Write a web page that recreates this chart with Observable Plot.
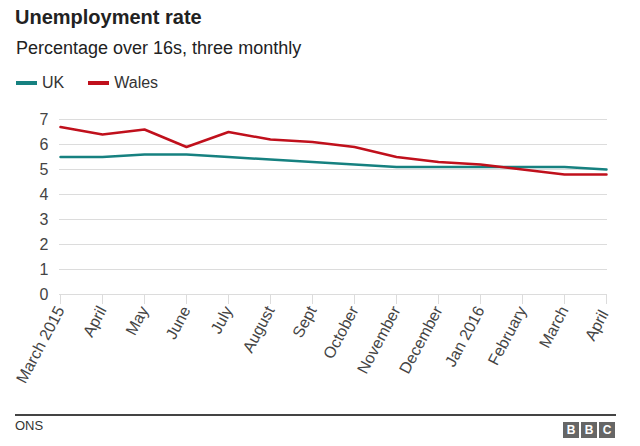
<!DOCTYPE html>
<html>
<head>
<meta charset="utf-8">
<script src="https://cdn.jsdelivr.net/npm/d3@7"></script>
<script src="https://cdn.jsdelivr.net/npm/@observablehq/plot@0.6"></script>
<style>
  html, body { margin: 0; padding: 0; background: #fff; }
  body { width: 640px; height: 446px; position: relative; overflow: hidden; font-family: "Liberation Sans", Arial, Helvetica, sans-serif; color: #222; }
  .abs { position: absolute; white-space: nowrap; }
  #title { left: 15px; top: 6px; font-size: 20px; font-weight: bold; color: #222; }
  #subtitle { left: 16px; top: 38px; font-size: 18px; color: #222; }
  #legend { left: 16px; top: 74px; font-size: 16px; color: #333; display: flex; align-items: center; }
  .sw { display: inline-block; width: 21px; height: 4px; margin-right: 5px; }
  .li { display: inline-flex; align-items: center; margin-right: 24px; }
  #chart { left: 0; top: 100px; }
  #rule { left: 15px; top: 414px; width: 601px; height: 2px; background: #444; }
  #source { left: 15px; top: 418px; font-size: 13px; color: #333; }
  #bbc { left: 563px; top: 422px; display: flex; gap: 2px; }
  #bbc span { display: inline-block; width: 16px; height: 16px; background: #666; color: #fff; font-size: 12px; font-weight: bold; text-align: center; line-height: 16px; }
</style>
</head>
<body>
<div id="title" class="abs">Unemployment rate</div>
<div id="subtitle" class="abs">Percentage over 16s, three monthly</div>
<div id="legend" class="abs"></div>
<div id="chart" class="abs"></div>
<div id="rule" class="abs"></div>
<div id="source" class="abs">ONS</div>
<div id="bbc" class="abs"><span>B</span><span>B</span><span>C</span></div>
<script>
const months = ["March 2015", "April", "May", "June", "July", "August", "Sept", "October", "November", "December", "Jan 2016", "February", "March", "April "];
const ukValues =    [5.5, 5.5, 5.6, 5.6, 5.5, 5.4, 5.3, 5.2, 5.1, 5.1, 5.1, 5.1, 5.1, 5.0];
const walesValues = [6.7, 6.4, 6.6, 5.9, 6.5, 6.2, 6.1, 5.9, 5.5, 5.3, 5.2, 5.0, 4.8, 4.8];
const seriesNames = ["UK", "Wales"];
const seriesColors = ["#168180", "#c0101c"];
const yTicks = [0, 1, 2, 3, 4, 5, 6, 7];

const rows = [];
months.forEach((m, i) => {
  rows.push({month: m, series: "UK", value: ukValues[i]});
  rows.push({month: m, series: "Wales", value: walesValues[i]});
});

// legend
const legend = document.getElementById("legend");
seriesNames.forEach((s, i) => {
  const item = document.createElement("span");
  item.className = "li";
  item.innerHTML = `<span class="sw" style="background:${seriesColors[i]}"></span>${s}`;
  legend.appendChild(item);
});

const chart = Plot.plot({
  width: 640,
  height: 300,
  marginLeft: 59,
  marginRight: 33,
  marginTop: 19,
  marginBottom: 106,
  style: {fontFamily: "'Liberation Sans', Arial, sans-serif", background: "#fff"},
  x: {type: "point", domain: months, padding: 0, label: null},
  y: {domain: [0, 7], label: null},
  color: {domain: seriesNames, range: seriesColors},
  marks: [
    Plot.ruleY(yTicks, {stroke: "#dcdcdc", strokeWidth: 1}),
    Plot.axisY({ticks: yTicks, tickFormat: d3.format("d"), tickSize: 0, tickPadding: 11, fontSize: 16, fill: "#444", label: null}),
    Plot.axisX({tickSize: 10, stroke: "#dcdcdc", tickRotate: -62, tickPadding: 3, fontSize: 16, fill: "#444", label: null}),
    Plot.line(rows, {x: "month", y: "value", z: "series", stroke: "series", strokeWidth: 2.5, curve: "linear"})
  ]
});
document.getElementById("chart").appendChild(chart);
</script>
</body>
</html>
